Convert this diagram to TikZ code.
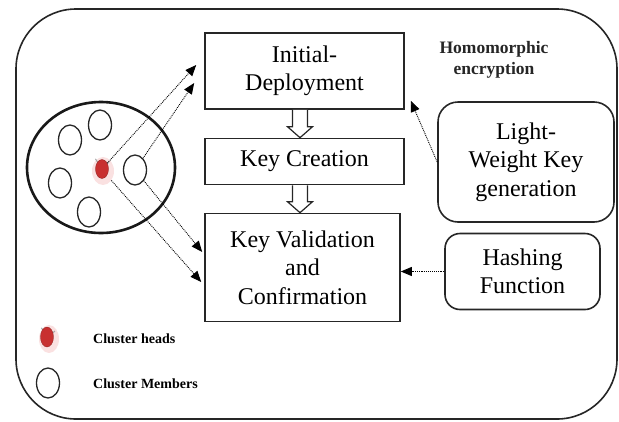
\documentclass[tikz,border=0pt]{standalone}
\usepackage{fontspec}
\setmainfont{Liberation Serif}
\usetikzlibrary{arrows.meta,calc,shapes.geometric}
\definecolor{headred}{RGB}{200,48,48}
\definecolor{halo}{RGB}{250,225,225}
\begin{document}
\begin{tikzpicture}[x=1pt,y=-1pt,
  box/.style={draw=black!85,line width=1.6pt,align=center,inner sep=0pt,
    font=\fontsize{24}{28.5}\selectfont},
  rbox/.style={box,rounded corners=20pt},
  member/.style={draw=black!85,line width=1.3pt,ellipse,inner sep=0pt,minimum width=23pt,minimum height=30pt},
  headhalo/.style={ellipse,fill=halo,inner sep=0pt,minimum width=22pt,minimum height=28pt},
  headcore/.style={ellipse,fill=headred,draw=headred!70!black,line width=0.3pt,inner sep=0pt,minimum width=13pt,minimum height=19pt},
  dotarrow/.style={densely dotted,line width=0.9pt,-{Triangle[length=11pt,width=9pt]}},
  hollow/.style={draw=black!85,line width=1.2pt,fill=white,line join=miter},
  legendtext/.style={font=\bfseries\fontsize{14}{16}\selectfont,anchor=west,inner sep=0pt}
]
\useasboundingbox (0,0) rectangle (619,421);
% outer frame
\draw[black!85,line width=1.6pt,rounded corners=60pt] (16,9) rectangle (617,419);

% process boxes
\node[box,minimum width=199pt,minimum height=76pt] (ini) at (304.5,71) {Initial-\\Deployment};
\node[box,minimum width=199pt,minimum height=46pt] (kc) at (304.5,161.5) {Key Creation};
\node[box,minimum width=195pt,minimum height=108pt] (kv) at (302.5,267.5) {Key Validation\\and\\Confirmation};
\node[rbox,minimum width=176pt,minimum height=120pt] (lw) at (526,162) {Light-\\Weight Key\\generation};
\node[rbox,rounded corners=15pt,minimum width=155pt,minimum height=76pt] (hf) at (522.5,271.5) {Hashing\\Function};
\node[align=center,inner sep=0pt,font=\bfseries\fontsize{17.5}{21}\selectfont,text=black!85] (homo) at (494,60) {Homomorphic\\encryption};

% hollow arrows
\coordinate (a1) at ($(ini.south)+(-4.5,0)$);
\coordinate (a2) at ($(kc.north)+(-4.5,0)$);
\draw[hollow] ($(a1)+(-7.5,0)$) -- ($(a2)+(-7.5,-11)$) -- ($(a2)+(-12.5,-11)$) -- (a2)
  -- ($(a2)+(12.5,-11)$) -- ($(a2)+(7.5,-11)$) -- ($(a1)+(7.5,0)$);
\coordinate (a3) at ($(kc.south)+(-4.5,0)$);
\coordinate (a4) at ($(kv.north)+(-2.5,0)$);
\draw[hollow] ($(a3)+(-7.5,0)$) -- ($(a4)+(-7.5,-11)$) -- ($(a4)+(-12.5,-11)$) -- (a4)
  -- ($(a4)+(12.5,-11)$) -- ($(a4)+(7.5,-11)$) -- ($(a3)+(7.5,0)$);

% cluster
\node[draw=black!90,line width=2.6pt,ellipse,inner sep=0pt,minimum width=148pt,minimum height=131pt] (cluster) at (101,167.5) {};
\node[member] (m1) at (100,125) {};
\node[member] (m2) at (70,140) {};
\node[member] (m3) at (60,183) {};
\node[member] (m4) at (89,212) {};
\node[member] (m5) at (135,170) {};
\node[headhalo] (h) at (103,171) {};
\draw[black!35,line width=1pt] ($(h)+(6,-9)$) arc[start angle=-50,end angle=-150,x radius=9pt,y radius=12pt];
\node[headcore] (hc) at (102,169) {};

% connectors from the cluster
\coordinate (t1) at ($(ini.west)+(-8,-6)$);
\coordinate (t2) at ($(ini.west)+(-10,12)$);
\coordinate (t3) at ($(kv.west)+(-2,-15.5)$);
\coordinate (t4) at ($(kv.west)+(-3,14.5)$);
\draw[dotarrow] (hc) -- (t1);
\draw[dotarrow] (m5) -- (t2);
\draw[dotarrow] (m5) -- (t3);
\draw[dotarrow] (h) -- (t4);

% dotted arrows from the side boxes
\coordinate (t5) at ($(ini.south east)+(6,-9)$);
\draw[dotarrow] (lw.west) -- (t5);
\draw[dotarrow] (hf.west) -- (kv.east |- hf.west);

% legend
\node[headhalo,minimum width=20pt,minimum height=28pt] (lh) at (49,339) {};
\draw[black!35,line width=1pt] ($(lh)+(6,-8)$) arc[start angle=-50,end angle=-150,x radius=9pt,y radius=12pt];
\node[headcore,minimum width=13pt,minimum height=20pt] (lhc) at (47,337) {};
\node[member] (lm) at (48,383) {};
\node[legendtext] (lht) at (93,339) {Cluster heads};
\node[legendtext] (lmt) at (93,384) {Cluster Members};
\end{tikzpicture}
\end{document}
